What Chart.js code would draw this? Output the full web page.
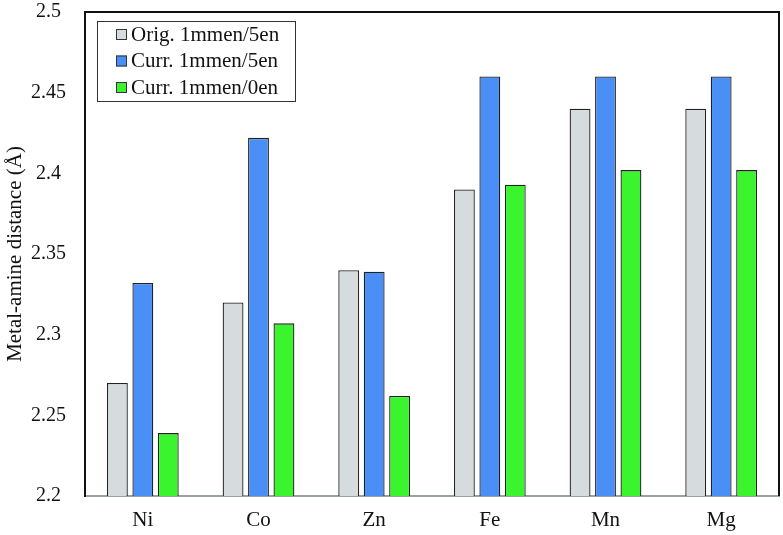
<!DOCTYPE html>
<html>
<head>
<meta charset="utf-8">
<script src="https://cdn.jsdelivr.net/npm/chart.js@4"></script>
<style>
  body { margin: 0; background: #fff; }
  #wrap { width: 783px; height: 535px; }
</style>
</head>
<body>
<div id="wrap"><canvas id="distChart" width="783" height="535"></canvas></div>
<script>
// Metal-amine distances
const metals = ['Ni', 'Co', 'Zn', 'Fe', 'Mn', 'Mg'];
const origMmen5en = [2.270, 2.320, 2.340, 2.390, 2.440, 2.440];
const currMmen5en = [2.332, 2.422, 2.339, 2.460, 2.460, 2.460];
const currMmen0en = [2.239, 2.307, 2.262, 2.393, 2.402, 2.402];
const yTicks = [2.2, 2.25, 2.3, 2.35, 2.4, 2.45, 2.5];

const serif = '"Liberation Serif", "Times New Roman", serif';

// frame round the plot area: black left/top/right, grey baseline
const framePlugin = {
    id: 'frame',
    afterDatasetsDraw(chart) {
        const { ctx, chartArea: a } = chart;
        ctx.save();
        ctx.strokeStyle = '#111';
        ctx.lineWidth = 2;
        ctx.beginPath();
        ctx.moveTo(a.left, a.bottom);
        ctx.lineTo(a.left, a.top);
        ctx.lineTo(a.right, a.top);
        ctx.lineTo(a.right, a.bottom);
        ctx.stroke();
        ctx.restore();
    }
};

// legend box drawn inside the plot, top left
const boxLegend = {
    id: 'boxLegend',
    afterDraw(chart) {
        const { ctx, chartArea: a } = chart;
        const x0 = a.left + 12, y0 = a.top + 9;
        const w = 198, h = 80;
        ctx.save();
        ctx.fillStyle = '#fff';
        ctx.fillRect(x0, y0, w, h);
        ctx.strokeStyle = '#333';
        ctx.lineWidth = 1;
        ctx.strokeRect(x0 + 0.5, y0 + 0.5, w, h);
        ctx.font = '21px ' + serif;
        ctx.textBaseline = 'middle';
        chart.data.datasets.forEach((ds, i) => {
            const cy = y0 + 13 + i * 26.5;
            ctx.fillStyle = ds.backgroundColor;
            ctx.fillRect(x0 + 19, cy - 5, 11, 11);
            ctx.strokeStyle = '#333';
            ctx.strokeRect(x0 + 19.5, cy - 4.5, 10, 10);
            ctx.fillStyle = '#111';
            ctx.fillText(ds.label, x0 + 34, cy + 1);
        });
        ctx.restore();
    }
};

function makeSet(label, data, color) {
    return {
        label: label,
        data: data,
        backgroundColor: color,
        borderColor: '#222',
        borderWidth: 1.3,
        borderSkipped: 'bottom',
        categoryPercentage: 0.66,
        barPercentage: 0.82
    };
}

new Chart(document.getElementById('distChart'), {
    type: 'bar',
    data: {
        labels: metals,
        datasets: [
            makeSet('Orig. 1mmen/5en', origMmen5en, 'rgb(214,220,221)'),
            makeSet('Curr. 1mmen/5en', currMmen5en, 'rgb(74,143,245)'),
            makeSet('Curr. 1mmen/0en', currMmen0en, 'rgb(58,245,46)')
        ]
    },
    options: {
        responsive: false,
        animation: false,
        layout: { padding: { top: 12, right: 4, left: 0, bottom: 0 } },
        plugins: {
            legend: { display: false },
            tooltip: { enabled: false }
        },
        scales: {
            x: {
                grid: { display: false, drawTicks: false },
                border: { display: true, color: '#9aa3a3', width: 2 },
                ticks: { color: '#111', font: { family: serif, size: 21 }, padding: 12 },
                afterFit(scale) { scale.height = 39; }
            },
            y: {
                min: 2.2,
                max: 2.5,
                afterBuildTicks(scale) {
                    scale.ticks = yTicks.map(v => ({ value: v }));
                },
                grid: { display: false, drawTicks: false },
                border: { display: true, color: '#111', width: 2 },
                ticks: {
                    color: '#111',
                    font: { family: serif, size: 20 },
                    crossAlign: 'center',
                    padding: 19,
                    callback: v => String(+v.toFixed(2))
                },
                title: {
                    display: true,
                    text: 'Metal-amine distance (Å)',
                    color: '#111',
                    font: { family: serif, size: 21 },
                    padding: { top: 3, bottom: 0 }
                },
                afterFit(scale) {
                    scale.width = 85;
                    scale.paddingTop = 0;
                    scale.paddingBottom = 0;
                }
            }
        }
    },
    plugins: [framePlugin, boxLegend]
});
</script>
</body>
</html>
